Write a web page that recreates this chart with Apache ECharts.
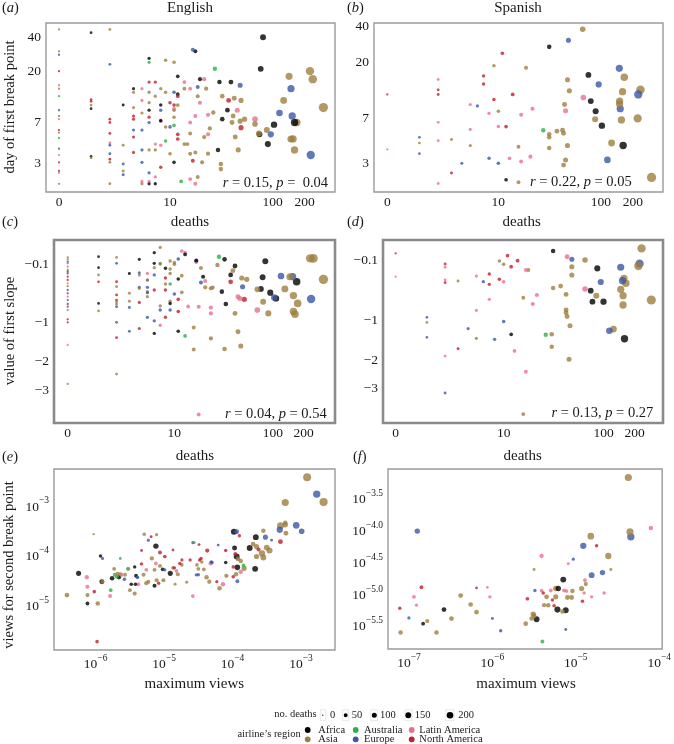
<!DOCTYPE html>
<html><head><meta charset="utf-8">
<script src="https://cdn.jsdelivr.net/npm/echarts@6/dist/echarts.min.js"></script>
<style>html,body{margin:0;padding:0;background:#fff}#c{width:674px;height:744px}</style>
</head><body><div id="c"></div>
<script>
const FONT = '"Liberation Serif","DejaVu Serif",serif';
const regionNames = ['Africa','Asia','Australia','Europe','Latin America','North America'];
const regionCodes = ['A','S','U','E','L','N'];
const regionColors = ['#000000','#9E7E3E','#2DB04B','#3B58A8','#E8708F','#BF1E2E'];

// ---------- (a) English: deaths vs day of first break point ----------
const aDeaths = [0,0,0,0,0,0,0,0,0,0,0,0,0,0,0,0,0,0,0,
 1,1,1,1,1,1,1,
 2,2,2,2,2,2,2,2,2,2,2,
 3,3,3,3,3,
 4,4,4,4,4,4,4,4,
 5,5,5,5,5,5,5,5,
 6,6,6,6,6,6,6,6,6,6,6,6,
 7,7,7,7,8,9,11,11,9,10,11,11,8,8,11,11,8,9,10,11,9,8,10,8,11,7,7,8,
 17,18,12,14,14,12,16,18,16,12,12,14,16,15,16,17,13,16,18,19,21,18,12,12,
 20,22,23,19,19,20,24,24,25,24,27,28,30,32,32,22,
 31,40,33,43,38,50,37,33,42,46,41,54,49,50,44,47,49,
 68,68,81,77,88,74,75,96,103,90,
 143,127,149,116,153,161,169,156,149,161,229,225,239,301];
const aDay = [47,30,28,20,15,14,12,9,8,7.5,6,5.7,5.1,4.1,3.6,3.1,2.6,2.5,2,
 44,11.2,10.8,10,9.3,3.5,3.4,
 47,23,7.5,7,5.6,4.6,4.4,3.7,3.3,3.1,2,
 10,4.4,3,2.6,2.4,
 14,13,8,7.5,6,5.2,3.8,9.5,
 14,11,8.5,6,4,3.1,2.1,2,
 26,24,16,13,10.5,9,7.8,7,4,2.5,2.1,2,
 4.5,4,2.3,2,7.2,25,24,13,13,10.5,10,9.3,10,9,9,7.8,7.3,6.4,6.4,6.6,4.8,4.4,3.7,2.8,3.1,16,12,14,
 31,30,18,16,14,12.5,14,8,7,5.5,5,4.5,5.6,4.5,3.7,3.2,2.1,2.2,2,2.3,3.1,3.8,12,10,
 17,17,14,14.5,12,10.5,8.2,5.5,6.2,3.7,8.6,21,4,3,2.7,5.2,
 16,16,12,11.5,11,11,9,7.5,8,9,7,7.5,15,6.3,5.2,4,7.2,
 7.5,6.8,40,21,6,5.6,5.5,5.5,6.7,4.5,
 18,11,14,8.5,8,7,7,5,5,4,3.6,20,17,9.5];
const aRegion = 'SSENLSUESLNSUELNNLS' + 'ANNSAAS' + 'SENNNLEENSS' + 'ASESE' + 'ASNNENNS' + 'LLSEEELS' +
 'AUNSSANESELA' + 'LSLANSSESNNLAESSASEUULSNANSS' + 'EAALSALLLNNSSSSNULLSSSNS' + 'ALSESLLLSSSUASSS' +
 'AASSNSAASLSSENSSS' + 'LSAASSAEAA' + 'SSEEEASSSSESSS';

// ---------- (b) Spanish: deaths vs day of first break point ----------
const bDeaths = [0,0,1,1,1,2,2,2,2,2,2,3,3,5,5,5,6,4,7,7,
 8,8,9,9,10,10,12,10,11,13,14,16,17,17,21,19,22,16,12,28,
 32,32,32,32,38,43,44,45,44,46,48,46,49,48,50,67,68,76,80,95,
 89,88,102,126,115,149,166,160,150,150,152,156,162,222,236,225,300];
const bDay = [11,3.9,4.9,4.4,3.6,14.6,12,11,6.5,4.6,2.05,4.7,2.5,9.1,5.7,4.2,8.85,3,15.6,13.4,
 7.7,3.3,10,18.9,8,6,6,3,23.9,3.3,11,4.1,7.5,3.1,3.4,18.2,8.4,2.1,2.2,5.6,
 27,5.2,4.9,4,5.5,5.6,5.3,9.1,2.9,3.2,4.2,8.1,30.6,14.5,11.8,37.6,10.4,15.9,9.7,13.3,
 8,6.9,6.1,4.4,3.2,18,15.2,11.6,9.7,9.2,8.4,6.8,4.2,7,12,11,2.3];
const bRegion = 'NLESELNNLLLSNLLSEENN' + 'LENSSLNENLNSLLLSLSAU' + 'ASSSSSSSSSSLESSSLAAE' + 'ASASEESSSSESASSES';

// ---------- (c) English: deaths vs value of first slope ----------
const cDeaths = [0,0,0,0,0,0,0,0,0,0,0,0,0,0,0,0,0,0,0,0,0,0,0,
 1,1,1,1,1,1,
 2,2,2,2,2,2,2,2,2,2,2,2,
 3,3,3,3,3,
 4,4,4,4,4,4,4,
 5,5,5,5,5,5,5,5,
 6,6,6,6,6,6,6,
 7,7,7,7,7,7,
 8,9,9,9,8,8,8,9,9,9,8,10,10,9,
 10,11,11,11,13,13,12,17,12,11,12,14,11,13,16,16,18,
 17,17,19,19,21,20,21,24,25,18,24,24,24,28,29,33,31,34,33,
 42,38,40,38,45,47,52,49,55,50,42,45,48,
 70,70,90,84,79,76,94,103,107,80,131,120,147,156,171,159,175,159,165,
 232,250,237,313];
const cSlope = [-0.028,-0.049,-0.074,-0.093,-0.131,-0.17,-0.19,-0.211,-0.253,-0.296,-0.341,-0.38,-0.436,-0.486,-0.538,-0.592,-0.657,-0.704,-0.763,-0.94,-1.0,-1.52,-2.76,
 -0.021,-0.142,-0.23,-0.32,-0.647,-0.78,
 -0.028,-0.093,-0.32,-0.388,-0.51,-0.592,-0.62,-0.657,-0.704,-1.0,-1.34,-2.4,
 -0.211,-0.486,-0.61,-0.716,-1.19,
 -0.049,-0.203,-0.23,-0.397,-0.412,-0.63,-1.13,
 -0.211,-0.296,-0.296,-0.397,-0.46,-0.476,-0.538,-0.90,
 0.02,-0.093,-0.142,-0.23,-0.436,-0.97,-1.24,
 0.072,-0.10,-0.093,-0.69,-1.06,-0.763,
 -0.15,-0.158,-0.211,-0.35,-0.27,-0.35,-0.436,-0.61,-0.647,-0.763,-0.9,-0.496,-0.085,-0.067,
 -0.104,-0.045,-0.58,-0.79,0.02,0.003,0.037,-0.074,-0.24,-0.283,-0.47,-0.70,-1.19,-1.30,-1.11,-1.64,-4.14,
 -0.067,-0.06,-0.146,-0.33,-0.31,-0.253,-0.397,-0.412,-0.40,-0.704,-0.72,-0.825,-1.36,-0.112,-0.021,-0.049,-0.46,-0.657,-1.63,
 -0.123,-0.23,-0.178,-0.32,-0.538,-0.565,-0.58,-0.27,-0.287,-0.388,-0.825,-1.2,-1.55,
 -0.426,-0.763,-0.825,-0.07,-0.26,-0.42,-0.476,-0.549,-0.565,-0.62,-0.42,-0.244,-0.253,-0.253,-0.32,-0.52,-0.647,-0.79,-0.84,
 -0.038,-0.038,-0.576,-0.287];
const cRegion = 'SSESLUNENNLSENLENESNNLS' + 'AASNAS' + 'SENSNNSSEENS' + 'ASSEE' + 'AESESNN' + 'LESESESE' +
 'AASENEA' + 'SUSSLE' + 'ASSUNSNSAENESS' + 'SENNLALESASLAUSSL' + 'LASELASSSLLLSSUAAAS' +
 'AASNLLNSSESSS' + 'SLSAAAAEASSESEASSSS' + 'SSES';

// ---------- (d) Spanish: deaths vs value of first slope ----------
const dDeaths = [0,0,2,2,2,2,2,2,1,1,1,3,3,5,5,5,6,7,7,4,
 7,9,10,10,9,10,8,11,12,14,12,13,17,18,16,17,16,20,22,32,
 31,31,27,32,38,43,43,43,44,47,46,44,49,49,49,66,66,75,87,78,
 100,85,94,114,125,147,153,158,165,147,155,155,160,224,218,234,291];
const dSlope = [-0.022,-0.292,-0.137,-0.176,-0.337,-0.373,-1.876,-3.17,-0.947,-1.05,-1.38,-0.35,-1.67,-0.284,-0.814,-1.405,-0.36,-0.258,-0.396,-1.18,
 -0.624,-0.104,-0.141,-0.36,-0.327,-1.03,-1.43,-0.046,-0.169,-0.1,-1.31,-1.73,-0.208,-0.208,-0.598,-2.37,-4.16,-0.702,-0.555,0.002,
 -1.31,-1.62,-1.32,-0.449,-0.42,-0.545,-0.808,-0.86,-0.93,-1.12,-1.97,-0.057,-0.085,-0.169,-0.27,-0.093,-0.463,-0.489,-0.189,-0.663,
 -0.663,-0.565,-0.364,-1.23,-1.19,-0.176,-0.346,-0.314,-0.382,-0.469,-0.565,-0.719,-1.415,-0.134,-0.161,0.028,-0.635];
const dRegion = 'NLNLLNLEESESNLLSENNE' + 'LSSLNEENNNALLSSLSLLA' + 'SSUSSSSSSSSLESSSLAAA' + 'ASEESEESSSSSAESSS';

// ---------- (e) English: log10 maximum views vs log10 views for second break point ----------
const eLogMaxViews = [-6.42,-6.25,-6.13,-6.12,-6.12,-6.12,-6.02,-5.97,-5.93,-5.90,-5.91,-5.90,-5.78,-5.79,-5.72,-5.69,-5.73,-5.68,-5.76,-5.66,
 -5.64,-5.58,-5.62,-5.52,-5.53,-5.57,-5.50,-5.48,-5.43,-5.38,-5.42,-5.41,-5.39,-5.30,-5.26,-5.23,-5.26,-5.33,-5.43,-5.23,
 -5.19,-5.29,-5.11,-5.12,-5.18,-5.06,-5.14,-5.14,-5.08,-5.11,-5.12,-5.06,-4.99,-4.99,-5.02,-5.01,-4.91,-4.87,-4.85,-4.82,
 -4.80,-4.74,-4.77,-4.58,-4.62,-4.58,-4.52,-4.53,-4.50,-4.48,-4.46,-4.45,-4.37,-4.32,-4.38,-4.34,-4.31,-4.42,-4.23,-4.19,
 -4.14,-4.09,-4.10,-4.10,-3.98,-3.94,-3.90,-3.97,-3.96,-3.94,-3.93,-3.93,-3.95,-3.99,-3.92,-3.88,-3.88,-3.84,-3.83,-3.75,
 -3.66,-3.70,-3.65,-3.62,-3.67,-3.65,-3.57,-3.55,-3.52,-3.55,-3.50,-3.46,-3.31,-3.30,-3.23,-3.23,-3.30,-3.22,-3.07,-2.99,-3.23,-2.91,-2.77,-2.67,-6.03,-5.98,
 -5.33,-5.39,-4.87,-4.74,-4.56,-4.49,-4.21,-3.43,-4.67,-4.84,-5.64,-4.50,-4.30,-3.99];
const eLogBreakViews = [-4.82,-4.38,-4.46,-4.65,-4.82,-4.99,-4.75,-4.99,-4.03,-4.08,-4.55,-4.55,-4.72,-4.84,-4.41,-4.45,-4.29,-4.39,-4.48,-4.46,
 -4.40,-4.50,-4.41,-4.29,-4.29,-4.41,-4.72,-4.60,-4.79,-4.60,-4.60,-4.43,-4.46,-4.41,-4.58,-4.55,-4.31,-4.19,-4.25,-3.71,
 -3.64,-3.59,-3.60,-3.83,-4.08,-3.96,-4.31,-4.63,-4.58,-4.52,-4.18,-4.23,-4.04,-4.31,-4.30,-4.52,-4.38,-4.27,-4.27,-4.33,
 -4.40,-4.21,-4.18,-3.76,-4.11,-4.84,-4.21,-4.41,-4.29,-4.11,-4.08,-4.15,-3.92,-4.18,-4.46,-4.55,-4.15,-4.30,-4.55,-4.68,
 -4.60,-4.43,-3.92,-4.16,-3.54,-3.54,-3.62,-3.87,-3.99,-4.04,-4.26,-4.54,-4.40,-4.45,-4.09,-4.13,-4.35,-4.22,-4.28,-3.87,
 -3.65,-3.79,-3.84,-3.90,-4.29,-4.04,-3.98,-4.06,-3.65,-3.52,-3.86,-3.92,-3.50,-3.42,-3.40,-3.36,-3.74,-3.57,-3.41,-3.53,-2.95,-2.44,-2.78,-2.94,-3.59,-5.76,
 -3.92,-4.46,-3.91,-4.11,-3.76,-3.80,-3.81,-3.71,-4.56,-4.60,-4.08,-4.41,-4.16,-4.25];
const eDeaths = [40,50,25,20,20,15,10,30,8,5,40,20,12,18,20,20,15,20,35,25,
 20,10,15,15,10,15,15,10,20,20,10,15,6,20,25,20,15,8,8,5,
 3,10,5,60,25,18,15,20,8,20,12,15,12,6,15,20,50,15,8,15,
 20,10,8,5,6,15,10,6,12,10,8,8,25,25,30,25,10,12,6,30,
 30,25,10,10,90,40,8,45,15,80,70,15,30,10,40,30,30,15,50,80,
 80,40,60,20,80,50,100,80,50,30,80,90,100,130,60,30,40,40,120,70,150,200,160,220,0,10,
 2,5,2,5,2,2,2,2,3,3,2,8,8,10];
const eRegion = 'SALLSANSAEASULUUSSAA' + 'SELLUSSASLAAESSSLNAE' + 'NSSASNSANSLSNEASASNL' + 'SSNENLSESNNSNLSSESNS' +
 'LSNAAENANAAESNSSLUSA' + 'ASSNASSSESSSESSSNSEESSESSN' + 'NENNUNEESSUEEN';

// ---------- (f) Spanish: log10 maximum views vs log10 views for second break point ----------
const fLogMaxViews = [-7.10,-7.11,-7.00,-6.94,-6.91,-6.85,-6.90,-6.83,-6.78,-6.67,-6.58,-6.49,-6.38,-6.26,-6.19,-6.19,-6.06,-6.03,-6.00,-5.90,
 -5.60,-5.53,-5.51,-5.50,-5.58,-5.49,-5.41,-5.39,-5.50,-5.41,-5.47,-5.40,-5.38,-5.35,-5.33,-5.28,-5.26,-5.30,-5.24,-5.21,
 -5.24,-5.22,-5.12,-5.16,-5.15,-5.14,-5.11,-5.10,-5.05,-5.04,-5.12,-5.09,-5.03,-4.93,-4.88,-4.89,-4.92,-4.90,-4.91,-4.82,
 -4.75,-4.81,-4.81,-4.68,-4.66,-4.61,-4.58,-4.37,-4.35,-4.34,-4.10];
const fLogBreakViews = [-5.62,-5.24,-5.39,-5.06,-5.19,-4.91,-4.03,-5.48,-5.44,-5.62,-5.26,-5.40,-5.04,-5.18,-5.30,-4.92,-4.91,-5.06,-5.40,-5.59,
 -5.48,-5.40,-5.33,-5.36,-5.09,-4.96,-4.96,-5.00,-4.63,-4.42,-5.41,-5.76,-5.19,-5.06,-5.19,-5.11,-5.20,-4.96,-4.93,-4.93,
 -5.06,-5.26,-5.27,-5.29,-4.79,-4.96,-4.97,-5.07,-5.07,-4.97,-5.57,-4.54,-4.47,-4.93,-4.86,-4.80,-5.13,-5.00,-4.26,-4.11,
 -4.26,-4.72,-5.06,-4.68,-5.00,-4.42,-4.63,-3.19,-4.04,-4.12,-3.98];
const fDeaths = [30,8,6,15,6,15,60,15,20,30,40,40,40,35,35,1,1,8,3,8,
 35,30,60,40,12,8,12,10,3,25,80,15,25,40,30,8,10,15,60,60,
 50,90,80,30,80,20,10,40,40,30,3,3,5,50,20,15,10,8,100,120,
 8,80,8,60,10,100,3,150,150,160,30];
const fRegion = 'SNELLNEASSASSSSNLLEE' + 'SSSSNELNSLAUSSSNNLSA' + 'SAASALLSSSELESSLNLES' + 'NELELSSSSEL';

// ---------- tick labels ----------
const deathTicks = [0, 10, 100, 200];
const dayTicks = [3, 7, 20, 40];
const slopeTicks = [-0.1, -1, -2, -3];
const eXTicks = [-6, -5, -4, -3];
const eYTicks = [-5, -4, -3];
const fXTicks = [-7, -6, -5, -4];
const fYTicks = [-5.5, -5.0, -4.5, -4.0, -3.5];
const legendDeaths = [0, 50, 100, 150, 200];

// ---------- helpers ----------
function check(name, arrs) {
  const l = arrs.map(a => a.length);
  if (l.some(v => v !== l[0])) throw new Error(name + ' length mismatch ' + l.join(','));
}
check('a', [aDeaths, aDay, aRegion]);
check('b', [bDeaths, bDay, bRegion]);
check('c', [cDeaths, cSlope, cRegion]);
check('d', [dDeaths, dSlope, dRegion]);
check('e', [eLogMaxViews, eLogBreakViews, eDeaths, eRegion]);
check('f', [fLogMaxViews, fLogBreakViews, fDeaths, fRegion]);

const colorOf = c => regionColors[regionCodes.indexOf(c)];
const sz = d => 2.3 + 0.4 * Math.sqrt(d);
const lgD = d => Math.log10(d + 1);
const lgDay = v => Math.log10(v);
const tSlope = v => -Math.log10(1 - v);
const ident = v => v;
const MINUS = '\u2212';
const TXT = '#1a1a1a';

const grids = [
  {left: 46, top: 23, width: 289, height: 169, bw: 1.4},
  {left: 374, top: 23, width: 289, height: 169, bw: 1.4},
  {left: 54, top: 240, width: 281, height: 183, bw: 2.6},
  {left: 383, top: 240, width: 280, height: 183, bw: 2.6},
  {left: 54, top: 469, width: 281, height: 181, bw: 1.4},
  {left: 388, top: 469, width: 275, height: 180, bw: 1.4}
];

const supRich = {
  b: {fontSize: 13.5, fontFamily: FONT, color: TXT, lineHeight: 18, verticalAlign: 'bottom'},
  s: {fontSize: 9.5, fontFamily: FONT, color: TXT, lineHeight: 8, verticalAlign: 'top'}
};

function mkAxis(gi, min, max, vals, labels, isY, rich) {
  return {
    type: 'value', gridIndex: gi, min: min, max: max,
    axisLine: {show: false}, splitLine: {show: false}, axisTick: {show: false},
    axisLabel: {
      customValues: vals, margin: isY ? 5 : 3, hideOverlap: false,
      fontFamily: FONT, fontSize: 13.5, color: TXT,
      formatter: function (v) {
        let k = 0, b = 1e9;
        vals.forEach((t, i) => { const d = Math.abs(t - v); if (d < b) { b = d; k = i; } });
        return labels[k];
      },
      rich: rich || {}
    }
  };
}
function mkSeries(gi, xs, ys, ds, regs, fx, fy) {
  const data = xs.map((x, i) => ({value: [fx(x), fy(ys[i]), ds[i]], itemStyle: {color: colorOf(regs[i])}}));
  data.sort((p, q) => q.value[2] - p.value[2]);
  return {type: 'scatter', xAxisIndex: gi, yAxisIndex: gi, data: data,
    symbolSize: v => sz(v[2]), animation: false, silent: true, clip: false,
    emphasis: {disabled: true}};
}

const deathVals = deathTicks.map(lgD), deathLabs = deathTicks.map(String);
const dayVals = dayTicks.map(lgDay), dayLabs = dayTicks.map(String);
const slopeVals = slopeTicks.map(tSlope), slopeLabs = slopeTicks.map(v => MINUS + Math.abs(v));
const powLab = (v, dec) => '{b|10}{s|' + MINUS + Math.abs(v).toFixed(dec) + '}';

const xAxes = [
  mkAxis(0, -0.122, 2.589, deathVals, deathLabs, false),
  mkAxis(1, -0.125, 2.586, deathVals, deathLabs, false),
  mkAxis(2, -0.134, 2.61, deathVals, deathLabs, false),
  mkAxis(3, -0.122, 2.578, deathVals, deathLabs, false),
  mkAxis(4, -6.609, -2.503, eXTicks, eXTicks.map(v => powLab(v, 0)), false, supRich),
  mkAxis(5, -7.251, -3.964, fXTicks, fXTicks.map(v => powLab(v, 0)), false, supRich)
];
const yAxes = [
  mkAxis(0, 0.228, 1.729, dayVals, dayLabs, true),
  mkAxis(1, 0.242, 1.627, dayVals, dayLabs, true),
  mkAxis(2, -0.749, 0.0654, slopeVals, slopeLabs, true),
  mkAxis(3, -0.7515, 0.049, slopeVals, slopeLabs, true),
  mkAxis(4, -5.929, -2.273, eYTicks, eYTicks.map(v => powLab(v, 0)), true, supRich),
  mkAxis(5, -5.877, -3.057, fYTicks, fYTicks.map(v => powLab(v, 1)), true, supRich)
];

const series = [
  mkSeries(0, aDeaths, aDay, aDeaths, aRegion, lgD, lgDay),
  mkSeries(1, bDeaths, bDay, bDeaths, bRegion, lgD, lgDay),
  mkSeries(2, cDeaths, cSlope, cDeaths, cRegion, lgD, tSlope),
  mkSeries(3, dDeaths, dSlope, dDeaths, dRegion, lgD, tSlope),
  mkSeries(4, eLogMaxViews, eLogBreakViews, eDeaths, eRegion, ident, ident),
  mkSeries(5, fLogMaxViews, fLogBreakViews, fDeaths, fRegion, ident, ident)
];

// ---------- text & legend graphics ----------
const italRich = {i: {fontStyle: 'italic', fontSize: 14.5, fontFamily: FONT, fill: TXT}};
function T(x, y, s, o) {
  return Object.assign({type: 'text', x: x, y: y, silent: true,
    style: Object.assign({text: s, fill: TXT, fontSize: 15, fontFamily: FONT, align: 'center', verticalAlign: 'middle'}, (o && o.style) || {})},
    (o && o.el) || {});
}
const G = [];
[['a', 2, 8.5], ['b', 347, 8.5], ['c', 2, 222], ['d', 347, 222], ['e', 2, 457], ['f', 353, 457]].forEach(p => {
  G.push(T(p[1], p[2], '({i|' + p[0] + '})', {style: {align: 'left', fontSize: 14.5, rich: italRich}}));
});
G.push(T(190, 8.5, 'English'));
G.push(T(518, 8.5, 'Spanish'));
G.push(T(190, 222.5, 'deaths'));
G.push(T(521.7, 222.5, 'deaths'));
G.push(T(195, 456.5, 'deaths'));
G.push(T(522.7, 456.5, 'deaths'));
G.push(T(194.3, 684, 'maximum views'));
G.push(T(526, 684, 'maximum views'));
G.push(T(10, 107, 'day of first break point', {style: {fontSize: 14.5}, el: {rotation: Math.PI / 2}}));
G.push(T(10, 331, 'value of first slope', {style: {fontSize: 14.5}, el: {rotation: Math.PI / 2}}));
G.push(T(9.5, 565, 'views for second break point', {style: {fontSize: 14.5}, el: {rotation: Math.PI / 2}}));
[['0.15', ' 0.04', 328, 182.7], ['0.22', '0.05', 631.7, 182], ['0.04', '0.54', 326.7, 414.3], ['0.13', '0.27', 653.3, 412.7]].forEach(p => {
  G.push(T(p[2], p[3], '{i|r} = ' + p[0] + ', {i|p} = ' + p[1], {style: {align: 'right', fontSize: 14.5, rich: italRich}}));
});
G.push(T(316.7, 714.5, 'no. deaths', {style: {align: 'right', fontSize: 10.5}}));
const sizeDotX = [322.8, 345.7, 374.3, 408.3, 450];
const sizeBoxX = [[320.3, 325.7], [342.7, 348.7], [370.7, 377.7], [405, 412], [445.7, 454]];
const sizeTxtX = [330, 351.7, 380, 414.7, 458.3];
legendDeaths.forEach((d, i) => {
  G.push({type: 'rect', silent: true, shape: {x: sizeBoxX[i][0], y: 709.8, width: sizeBoxX[i][1] - sizeBoxX[i][0], height: 10.8},
    style: {fill: '#fff', stroke: '#e2e2e2', lineWidth: 0.8}});
  G.push({type: 'circle', silent: true, shape: {cx: sizeDotX[i], cy: 715.2, r: (1.3 + 0.375 * Math.sqrt(d)) / 2}, style: {fill: '#000'}});
  G.push(T(sizeTxtX[i], 715.2, String(d), {style: {align: 'left', fontSize: 10.5}}));
});
G.push(T(300.7, 734.6, 'airline\u2019s region', {style: {align: 'right', fontSize: 10.5}}));
const regColX = [307.7, 355.7, 411.7], regTxtX = [318.3, 364, 419.3], regRowY = [730, 739.3];
regionNames.forEach((n, i) => {
  const col = Math.floor(i / 2), row = i % 2;
  G.push({type: 'circle', silent: true, shape: {cx: regColX[col], cy: regRowY[row], r: 2.9}, style: {fill: regionColors[i]}});
  G.push(T(regTxtX[col], regRowY[row], n, {style: {align: 'left', fontSize: 10.5}}));
});

const chart = echarts.init(document.getElementById('c'), null, {renderer: 'canvas', width: 674, height: 744});
chart.setOption({
  animation: false,
  backgroundColor: '#ffffff',
  grid: grids.map(g => ({left: g.left, top: g.top, width: g.width, height: g.height, show: true,
    borderColor: g.bw > 2 ? '#8a8a8a' : '#9a9a9a', borderWidth: g.bw, backgroundColor: 'transparent', containLabel: false})),
  xAxis: xAxes,
  yAxis: yAxes,
  series: series,
  graphic: {elements: G}
});
</script>
</body></html>
